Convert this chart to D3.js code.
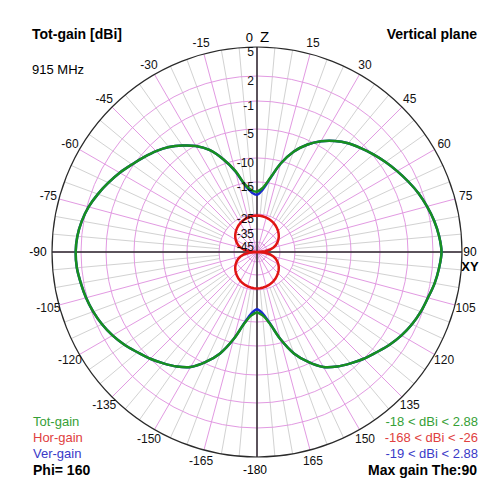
<!DOCTYPE html>
<html>
<head>
<meta charset="utf-8">
<script src="https://cdn.jsdelivr.net/npm/d3@7/dist/d3.min.js"></script>
<style>
  body { margin: 0; background: #fff; }
  text { font-family: "Liberation Sans", Arial, sans-serif; }
</style>
</head>
<body>
<script>
// Polar angles (degrees, 0 = Z up, clockwise positive)
var thetas = [0,5,10,15,20,25,30,35,40,45,50,55,60,65,70,75,80,85,90,95,100,105,110,115,120,125,130,135,140,145,150,155,160,165,170,175,180,
              185,190,195,200,205,210,215,220,225,230,235,240,245,250,255,260,265,270,275,280,285,290,295,300,305,310,315,320,325,330,335,340,345,350,355];

// Tot-gain [dBi]
var totGain = [-18,-16.8,-14,-10.5,-7.8,-5.8,-4.3,-3.2,-2.3,-1.6,-0.9,-0.3,0.3,0.9,1.5,2.0,2.4,2.7,2.88,
               2.7,2.45,2.1,1.8,1.4,0.9,0.3,-0.4,-1.0,-1.8,-2.6,-3.6,-5.3,-7.6,-10.8,-14.5,-17,-18,
               -17,-14.5,-10.8,-7.6,-5.3,-3.6,-2.6,-1.8,-1.0,-0.4,0.3,0.9,1.4,1.8,2.1,2.3,2.5,2.55,
               2.45,2.2,1.8,1.2,0.55,-0.1,-0.8,-1.5,-2.2,-3.0,-4.0,-5.1,-6.8,-9.2,-12.1,-15.5,-17.5];

// Ver-gain [dBi]
var verGain = [-19,-17.4,-14.1,-10.5,-7.8,-5.8,-4.3,-3.2,-2.3,-1.6,-0.9,-0.3,0.3,0.9,1.5,2.0,2.4,2.7,2.88,
               2.7,2.45,2.1,1.8,1.4,0.9,0.3,-0.4,-1.0,-1.8,-2.6,-3.6,-5.3,-7.6,-10.8,-14.6,-17.7,-19,
               -17.7,-14.6,-10.8,-7.6,-5.3,-3.6,-2.6,-1.8,-1.0,-0.4,0.3,0.9,1.4,1.8,2.1,2.3,2.5,2.55,
               2.45,2.2,1.8,1.2,0.55,-0.1,-0.8,-1.5,-2.2,-3.0,-4.0,-5.1,-6.8,-9.2,-12.2,-15.8,-18.2];

// Hor-gain [dBi]
var horGain = [-26,-26.1,-26.3,-26.6,-27,-27.5,-28.1,-28.8,-29.6,-30.5,-31.5,-32.6,-33.9,-35.4,-37.3,-39.6,-42.7,-47.5,-168,-47.5,-42.7,-39.6,-37.3,-35.4,-33.9,-32.6,-31.5,-30.5,-29.6,-28.8,-28.1,-27.5,-27,-26.6,-26.3,-26.1,-26,
               -26.1,-26.3,-26.6,-27,-27.5,-28.1,-28.8,-29.6,-30.5,-31.5,-32.6,-33.9,-35.4,-37.3,-39.6,-42.7,-47.5,-168,-47.5,-42.7,-39.6,-37.3,-35.4,-33.9,-32.6,-31.5,-30.5,-29.6,-28.8,-28.1,-27.5,-27,-26.6,-26.3,-26.1];

// Ring (dB) ticks and angle ticks
var ringTicks = [5, 2, -1, -5, -10, -15, -25, -35, -45];
var angleTicks = [15,30,45,60,75,105,120,135,150,165,-15,-30,-45,-60,-75,-105,-120,-135,-150,-165];

var width = 500, height = 500;
var cx = 257, cy = 252, R = 205;

var svg = d3.select("body").append("svg")
  .attr("width", width)
  .attr("height", height);

// dB -> radius (graph paper scale, compressed toward the centre)
var rScale = d3.scaleLinear()
  .domain([5, 2, -1, -5, -10, -15, -25, -35, -45, -60])
  .range([R, 176, 151, 123, 94, 70, 38, 23, 10, 0])
  .clamp(true);

var aScale = d3.scaleLinear().domain([0, 360]).range([0, 2 * Math.PI]);

var g = svg.append("g").attr("transform", `translate(${cx}, ${cy})`);

// minor spokes every 5 deg
var minor = d3.range(0, 360, 5).filter(function(a) { return a % 15 !== 0; });
g.selectAll(".minor").data(minor).enter()
  .append("line")
  .attr("x1", function(a) { return rScale(-25) * Math.sin(aScale(a)); })
  .attr("y1", function(a) { return -rScale(-25) * Math.cos(aScale(a)); })
  .attr("x2", function(a) { return R * Math.sin(aScale(a)); })
  .attr("y2", function(a) { return -R * Math.cos(aScale(a)); })
  .attr("stroke", "#d2d2d2")
  .attr("stroke-width", 1);

// major spokes every 15 deg
g.selectAll(".major").data(d3.range(0, 360, 15)).enter()
  .append("line")
  .attr("x1", 0).attr("y1", 0)
  .attr("x2", function(a) { return R * Math.sin(aScale(a)); })
  .attr("y2", function(a) { return -R * Math.cos(aScale(a)); })
  .attr("stroke", "#e29ae2")
  .attr("stroke-width", 1);

// rings
g.selectAll(".ring").data(ringTicks.slice(1)).enter()
  .append("circle")
  .attr("r", function(d) { return rScale(d); })
  .attr("fill", "none")
  .attr("stroke", "#e29ae2")
  .attr("stroke-width", 1);

// outer circle
g.append("circle")
  .attr("r", R)
  .attr("fill", "none")
  .attr("stroke", "#2a2a2a")
  .attr("stroke-width", 1.2);

// axes
g.append("line").attr("x1", 0).attr("y1", -R).attr("x2", 0).attr("y2", R)
  .attr("stroke", "#2a2a2a").attr("stroke-width", 1.5);
g.append("line").attr("x1", -R).attr("y1", 0).attr("x2", R).attr("y2", 0)
  .attr("stroke", "#2a2a2a").attr("stroke-width", 1.5);

// patterns
function pattern(values, curve) {
  return d3.lineRadial()
    .angle(function(d, i) { return aScale(thetas[i]); })
    .radius(function(d) { return rScale(d); })
    .curve(curve)(values);
}

g.append("path")
  .attr("d", pattern(verGain, d3.curveCatmullRomClosed.alpha(0.5)))
  .attr("fill", "none").attr("stroke", "#1a2ad0").attr("stroke-width", 2.5);

g.append("path")
  .attr("d", pattern(totGain, d3.curveCatmullRomClosed.alpha(0.5)))
  .attr("fill", "none").attr("stroke", "#17901f").attr("stroke-width", 2.5);

g.append("path")
  .attr("d", pattern(horGain, d3.curveLinearClosed))
  .attr("fill", "none").attr("stroke", "#e01414").attr("stroke-width", 2.5);

// ring labels
g.selectAll(".rlab").data(ringTicks).enter()
  .append("text")
  .attr("x", -3)
  .attr("y", function(d) { return -rScale(d) + 5; })
  .attr("text-anchor", "end")
  .attr("dominant-baseline", "central")
  .attr("font-size", 12)
  .attr("fill", "#111")
  .text(function(d) { return d; });

// angle labels
var lr = 216;
g.selectAll(".alab").data(angleTicks).enter()
  .append("text")
  .attr("x", function(a) { return lr * Math.sin(aScale(a)); })
  .attr("y", function(a) { return -lr * Math.cos(aScale(a)); })
  .attr("text-anchor", "middle")
  .attr("dominant-baseline", "central")
  .attr("font-size", 12)
  .attr("fill", "#111")
  .text(function(a) { return a; });

g.append("text").attr("x", -4).attr("y", -215).attr("text-anchor", "end")
  .attr("dominant-baseline", "central").attr("font-size", 13).text("0");
g.append("text").attr("x", 3).attr("y", -216)
  .attr("dominant-baseline", "central").attr("font-size", 15).text("Z");
g.append("text").attr("x", 213).attr("y", 0).attr("text-anchor", "middle")
  .attr("dominant-baseline", "central").attr("font-size", 12).text("90");
g.append("text").attr("x", 213).attr("y", 14).attr("text-anchor", "middle")
  .attr("dominant-baseline", "central").attr("font-size", 13).attr("font-weight", "bold").text("XY");
g.append("text").attr("x", -219).attr("y", 0).attr("text-anchor", "middle")
  .attr("dominant-baseline", "central").attr("font-size", 12).text("-90");
g.append("text").attr("x", -2).attr("y", 218).attr("text-anchor", "middle")
  .attr("dominant-baseline", "central").attr("font-size", 12).text("-180");

// titles
svg.append("text").attr("x", 32).attr("y", 34).attr("dominant-baseline", "central")
  .attr("font-size", 14).attr("font-weight", "bold").text("Tot-gain [dBi]");
svg.append("text").attr("x", 32).attr("y", 69).attr("dominant-baseline", "central")
  .attr("font-size", 13).text("915 MHz");
svg.append("text").attr("x", 477).attr("y", 34).attr("text-anchor", "end").attr("dominant-baseline", "central")
  .attr("font-size", 14).attr("font-weight", "bold").text("Vertical plane");

// legends
var legNames = ["Tot-gain", "Hor-gain", "Ver-gain"];
var legRanges = ["-18 < dBi < 2.88", "-168 < dBi < -26", "-19 < dBi < 2.88"];
var legColors = ["#36a036", "#e04040", "#3a3ac8"];
var legY = [421, 437, 453];

legNames.forEach(function(n, i) {
  svg.append("text").attr("x", 33).attr("y", legY[i]).attr("dominant-baseline", "central")
    .attr("font-size", 13).attr("fill", legColors[i]).text(n);
  svg.append("text").attr("x", 478).attr("y", legY[i]).attr("text-anchor", "end").attr("dominant-baseline", "central")
    .attr("font-size", 13).attr("fill", legColors[i]).text(legRanges[i]);
});
svg.append("text").attr("x", 33).attr("y", 470).attr("dominant-baseline", "central")
  .attr("font-size", 14).attr("font-weight", "bold").text("Phi= 160");
svg.append("text").attr("x", 477).attr("y", 470).attr("text-anchor", "end").attr("dominant-baseline", "central")
  .attr("font-size", 14).attr("font-weight", "bold").text("Max gain The:90");
</script>
</body>
</html>
